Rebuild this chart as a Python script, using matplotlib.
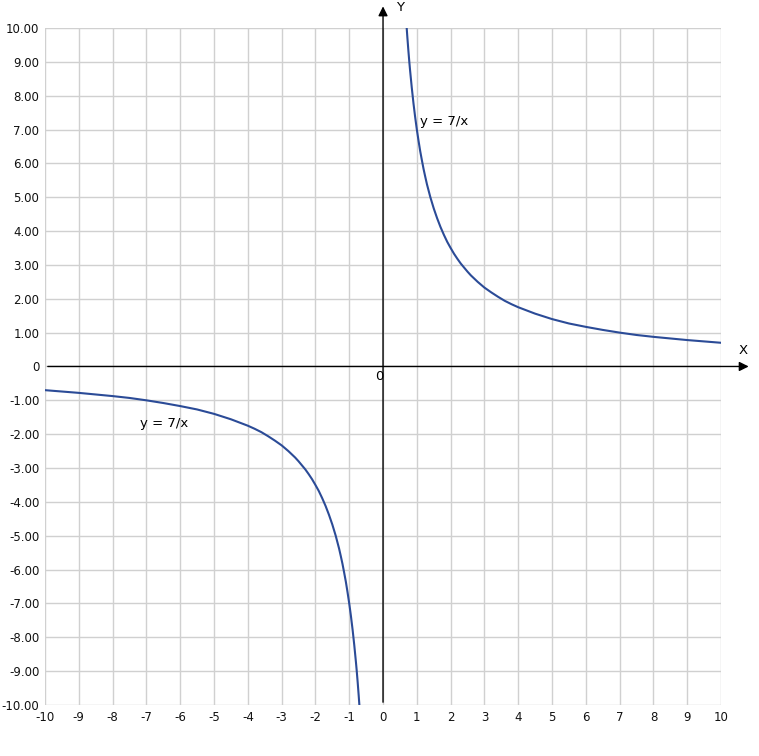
import matplotlib.pyplot as plt

# values (y = 7/x)
x_pos = [0.7, 0.72, 0.75, 0.78, 0.8, 0.85, 0.9, 0.95, 1.0, 1.05, 1.1, 1.15, 1.2, 1.25, 1.3, 1.35, 1.4, 1.5, 1.6, 1.7, 1.8, 1.9,
         2.0, 2.1, 2.2, 2.3, 2.4, 2.5, 2.6, 2.8, 3.0, 3.2, 3.4, 3.6, 3.8, 4.0, 4.5, 5.0, 5.5, 6.0, 6.5, 7.0, 7.5, 8.0, 9.0, 10.0]
y_pos = [10.0, 9.72, 9.33, 8.97, 8.75, 8.24, 7.78, 7.37, 7.0, 6.67, 6.36, 6.09, 5.83, 5.6, 5.38, 5.19, 5.0, 4.67, 4.38, 4.12, 3.89, 3.68,
         3.5, 3.33, 3.18, 3.04, 2.92, 2.8, 2.69, 2.5, 2.33, 2.19, 2.06, 1.94, 1.84, 1.75, 1.56, 1.4, 1.27, 1.17, 1.08, 1.0, 0.93, 0.875, 0.78, 0.7]
x_neg = [-10.0, -9.0, -8.0, -7.5, -7.0, -6.5, -6.0, -5.5, -5.0, -4.5, -4.0, -3.8, -3.6, -3.4, -3.2, -3.0, -2.8, -2.6, -2.5, -2.4, -2.3, -2.2, -2.1,
         -2.0, -1.9, -1.8, -1.7, -1.6, -1.5, -1.4, -1.35, -1.3, -1.25, -1.2, -1.15, -1.1, -1.05, -1.0, -0.95, -0.9, -0.85, -0.8, -0.78, -0.75, -0.72, -0.7]
y_neg = [-0.7, -0.78, -0.875, -0.93, -1.0, -1.08, -1.17, -1.27, -1.4, -1.56, -1.75, -1.84, -1.94, -2.06, -2.19, -2.33, -2.5, -2.69, -2.8, -2.92, -3.04, -3.18, -3.33,
         -3.5, -3.68, -3.89, -4.12, -4.38, -4.67, -5.0, -5.19, -5.38, -5.6, -5.83, -6.09, -6.36, -6.67, -7.0, -7.37, -7.78, -8.24, -8.75, -8.97, -9.33, -9.72, -10.0]
x_ticks = list(range(-10, 11))
y_ticks = list(range(-10, 11))
label = "y = 7/x"

plt.rcParams['font.family'] = ['DejaVu Sans']

fig = plt.figure(figsize=(7.59, 7.56), dpi=100)
ax = fig.add_axes([0.0593, 0.0675, 0.8907, 0.8955])
ax.set_xlim(-10, 10)
ax.set_ylim(-10, 10)

ax.set_xticks(x_ticks)
ax.set_yticks(y_ticks)
ax.set_xticklabels([str(v) for v in x_ticks])
ax.set_yticklabels(["0" if v == 0 else "%.2f" % v for v in y_ticks])
ax.tick_params(length=0, labelsize=8.5, pad=4, labelcolor="#111111")
ax.grid(True, color="#d0d0d0", linewidth=1.0)
for s in ax.spines.values():
    s.set_visible(False)

line_c = "#2b4b97"
ax.plot(x_pos, y_pos, color=line_c, lw=1.5)
ax.plot(x_neg, y_neg, color=line_c, lw=1.5)
ax.text(1.1, 7.25, label, fontsize=9.5, va="center", ha="left")
ax.text(-7.2, -1.68, label, fontsize=9.5, va="center", ha="left")

# axes with arrows
ax.annotate("", xy=(10.9, 0), xytext=(-10, 0), annotation_clip=False,
            arrowprops=dict(arrowstyle="-|>", color="black", lw=1, mutation_scale=14))
ax.annotate("", xy=(0, 10.72), xytext=(0, -10), annotation_clip=False,
            arrowprops=dict(arrowstyle="-|>", color="black", lw=1, mutation_scale=14))
ax.text(10.65, 0.48, "X", fontsize=9.5, ha="center", va="center", clip_on=False)
ax.text(0.5, 10.6, "Y", fontsize=9.5, ha="center", va="center", clip_on=False)
ax.text(-0.12, -0.3, "0", fontsize=9.5, ha="center", va="center")

fig.savefig("out.png", dpi=100)
